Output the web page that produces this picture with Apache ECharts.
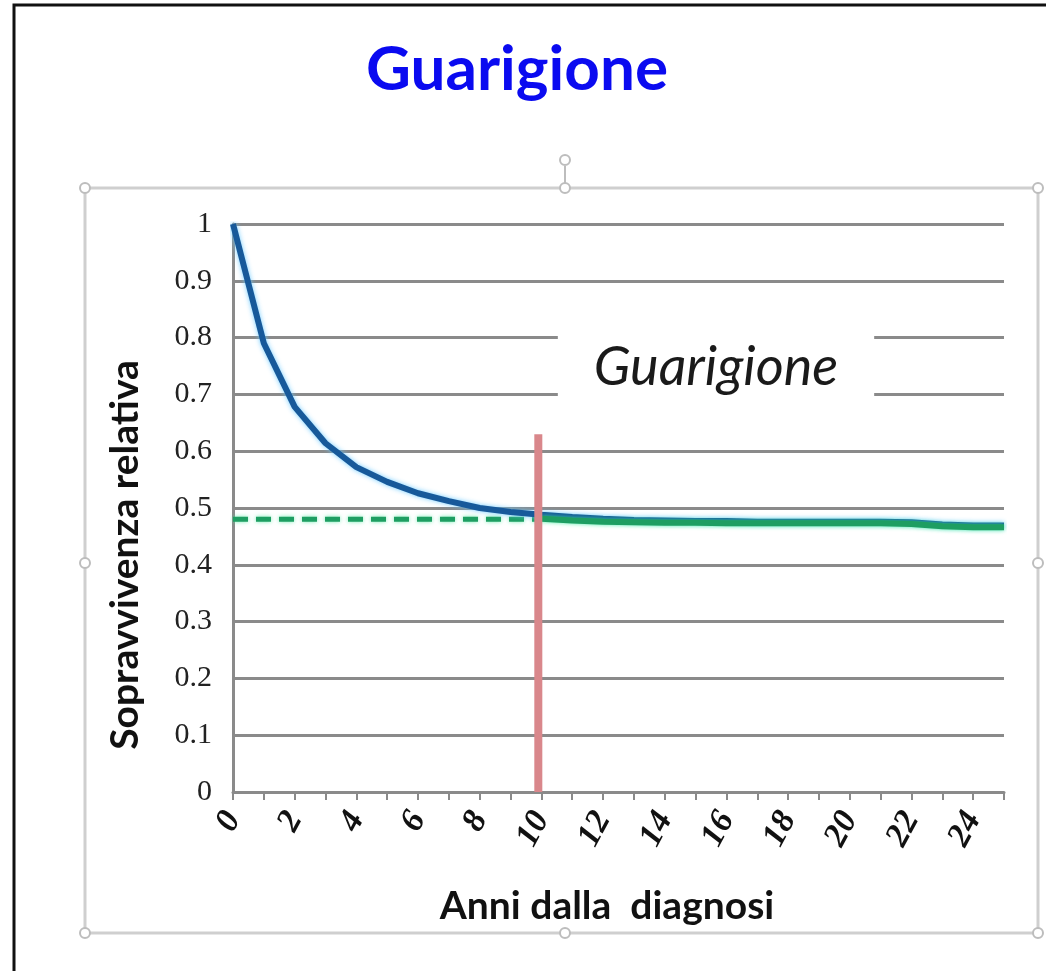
<!DOCTYPE html>
<html>
<head>
<meta charset="utf-8">
<script src="https://cdn.jsdelivr.net/npm/echarts@6/dist/echarts.min.js"></script>
<style>
html,body{margin:0;padding:0;background:#fff;}
#c{width:1046px;height:971px;}
</style>
</head>
<body>
<div id="c"></div>
<script>
// ---- data ----
const years = [0,1,2,3,4,5,6,7,8,9,10,11,12,13,14,15,16,17,18,19,20,21,22,23,24,25];
const relativeSurvival = [1.0,0.79,0.678,0.614,0.572,0.546,0.526,0.512,0.5,0.493,0.488,0.484,0.481,0.479,0.478,0.477,0.477,0.476,0.476,0.476,0.476,0.476,0.475,0.471,0.469,0.469];
const cureYearsDashed = [0,1,2,3,4,5,6,7,8,9,10];
const cureLevelDashed = [0.48,0.48,0.48,0.48,0.48,0.48,0.48,0.48,0.48,0.48,0.48];
const cureYearsSolid = [10,11,12,13,14,15,16,17,18,19,20,21,22,23,24,25];
const cureLevelSolid = [0.481,0.478,0.476,0.475,0.474,0.474,0.473,0.473,0.473,0.473,0.473,0.473,0.472,0.468,0.466,0.466];
const cureLineX = [9.9, 9.9];
const cureLineY = [0, 0.63];
const titleText = 'Guarigione';
const annotationText = 'Guarigione';
const xTitle = 'Anni dalla  diagnosi';
const yTitle = 'Sopravvivenza relativa';

const chart = echarts.init(document.getElementById('c'), null, {renderer:'canvas'});

function handle(x, y){
  return {type:'circle', shape:{cx:x, cy:y, r:5}, style:{fill:'#fff', stroke:'#bdbdbd', lineWidth:2}, z:20};
}

const option = {
  backgroundColor:'#fff',
  animation:false,
  grid:{left:233, right:42, top:224, bottom:179},
  xAxis:{
    type:'value', min:0, max:25, interval:1,
    axisLine:{show:true, lineStyle:{color:'#8a8a8a', width:3}},
    axisTick:{show:true, length:8, lineStyle:{color:'#8a8a8a', width:2}},
    splitLine:{show:false},
    axisLabel:{
      rotate:62, margin:22, color:'#111',
      fontFamily:'Liberation Serif', fontStyle:'italic', fontWeight:'bold', fontSize:34,
      formatter:function(v){ return (v % 2 === 0 && v < 25) ? String(v) : ''; }
    }
  },
  yAxis:{
    type:'value', min:0, max:1, interval:0.1,
    axisLine:{show:true, lineStyle:{color:'#8a8a8a', width:3}},
    axisTick:{show:false},
    splitLine:{show:true, lineStyle:{color:'#8a8a8a', width:3}},
    axisLabel:{
      margin:21, color:'#222', fontFamily:'Liberation Serif', fontSize:30,
      formatter:function(v){ return String(Math.round(v*10)/10); }
    }
  },
  series:[
    {
      type:'line', name:'cure dashed', showSymbol:false, z:3,
      data: cureYearsDashed.map((x,i)=>[x, cureLevelDashed[i]]),
      lineStyle:{color:'#1e9e62', width:5, type:[15,8], shadowColor:'rgba(60,230,150,0.7)', shadowBlur:4}
    },
    {
      type:'line', name:'relative survival', showSymbol:false, z:4,
      data: years.map((x,i)=>[x, relativeSurvival[i]]),
      lineStyle:{color:'#17599a', width:6, shadowColor:'rgba(100,200,255,0.9)', shadowBlur:5}
    },
    {
      type:'line', name:'cure solid', showSymbol:false, z:5,
      data: cureYearsSolid.map((x,i)=>[x, cureLevelSolid[i]]),
      lineStyle:{color:'#1e9e62', width:6, shadowColor:'rgba(60,240,150,0.8)', shadowBlur:4}
    },
    {
      type:'line', name:'cure time', showSymbol:false, z:6,
      data: cureLineX.map((x,i)=>[x, cureLineY[i]]),
      lineStyle:{color:'#d9878b', width:8, cap:'butt'}
    }
  ],
  graphic:[
    // outer black frame
    {type:'polyline', shape:{points:[[14,975],[14,5],[1050,5]]}, style:{stroke:'#111', lineWidth:3, fill:null}, z:20},
    // chart selection frame
    {type:'rect', shape:{x:85, y:188, width:953, height:745}, style:{fill:null, stroke:'#cfcfcf', lineWidth:3}, z:19},
    {type:'line', shape:{x1:565, y1:166, x2:565, y2:188}, style:{stroke:'#bdbdbd', lineWidth:2}, z:19},
    handle(565,160),
    handle(85,188), handle(565,188), handle(1038,188),
    handle(85,563), handle(1038,563),
    handle(85,933), handle(565,933), handle(1038,933),
    // title
    {type:'text', z:20, x:517, y:70,
      style:{text:titleText, fill:'#0a0af0', font:'bold 62px Lato', align:'center', verticalAlign:'middle'}},
    // in-plot annotation
    {type:'text', z:10, x:716, y:368,
      style:{text:annotationText, fill:'#1a1a1a', font:'italic 54px Lato', align:'center', verticalAlign:'middle',
        backgroundColor:'#fff', padding:[20,36,20,36]}},
    // axis titles
    {type:'text', z:10, x:607, y:906,
      style:{text:xTitle, fill:'#111', font:'bold 39px Lato', align:'center', verticalAlign:'middle'}},
    {type:'text', z:10, x:125, y:555, rotation:Math.PI/2,
      style:{text:yTitle, fill:'#111', font:'bold 39px Lato', align:'center', verticalAlign:'middle'}}
  ]
};
chart.setOption(option);
</script>
</body>
</html>
